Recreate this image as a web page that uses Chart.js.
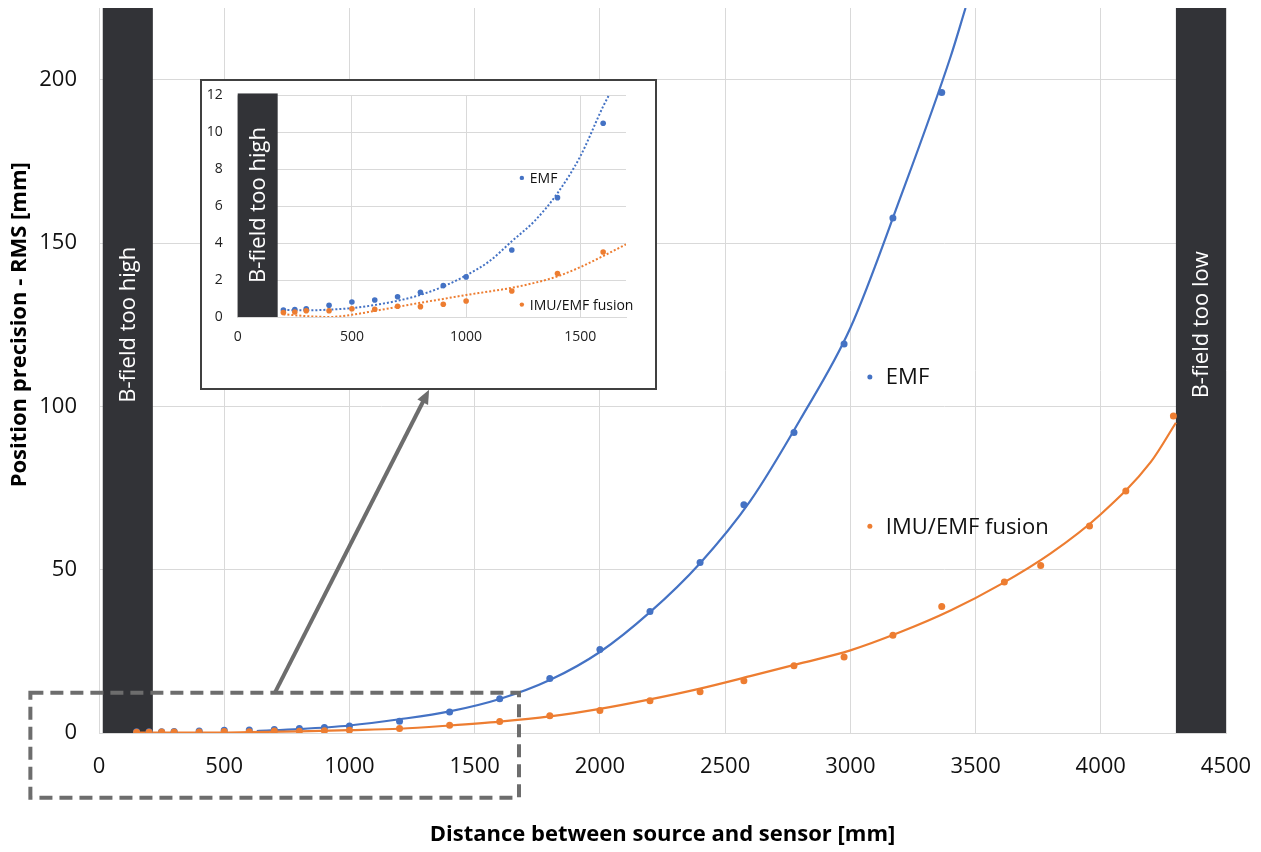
<!DOCTYPE html>
<html>
<head>
<meta charset="utf-8">
<script src="https://cdn.jsdelivr.net/npm/chart.js@4.4.1/dist/chart.umd.min.js"></script>
<style>
  body { margin: 0; background: #fff; }
  #wrap { position: relative; width: 1261px; height: 852px; }
  #mainChart { position: absolute; left: 0; top: 0; }
  #inset { position: absolute; left: 200px; top: 79px; width: 457px; height: 311px;
           box-sizing: border-box; border: 2px solid #404040; background: #fff; }
  #inset canvas { display: block; }
</style>
</head>
<body>
<div id="wrap">
  <canvas id="mainChart" width="1261" height="852"></canvas>
  <div id="inset"><canvas id="insetChart" width="453" height="307"></canvas></div>
</div>
<script>
// measured points (distance in mm, RMS in mm)
const emfDistance = [150, 200, 250, 300, 400, 500, 600, 700, 800, 900, 1000, 1200, 1400, 1600, 1800, 2000, 2200, 2400, 2575, 2775, 2975, 3170, 3365];
const emfRms      = [0.35, 0.38, 0.40, 0.45, 0.63, 0.81, 0.92, 1.10, 1.34, 1.70, 2.17, 3.63, 6.46, 10.49, 16.7, 25.6, 37.2, 52.2, 69.9, 92.0, 119.1, 157.7, 196.1];

const fusionDistance = [150, 200, 250, 300, 400, 500, 600, 700, 800, 900, 1000, 1200, 1400, 1600, 1800, 2000, 2200, 2400, 2575, 2775, 2975, 3170, 3365, 3615, 3760, 3955, 4100, 4290];
const fusionRms      = [0.20, 0.24, 0.27, 0.34, 0.34, 0.45, 0.42, 0.58, 0.56, 0.69, 0.87, 1.41, 2.35, 3.52, 5.3, 6.9, 9.9, 12.6, 16.0, 20.6, 23.3, 29.9, 38.7, 46.2, 51.3, 63.4, 74.1, 97.1];

// trend lines (main chart, solid)
const emfTrendX = [630, 800, 1000, 1200, 1400, 1600, 1800, 2000, 2200, 2400, 2600, 2800, 3000, 3200, 3400, 3460];
const emfTrendY = [0.6, 1.2, 2.3, 4.2, 6.6, 10.4, 16.2, 24.8, 37, 52, 71, 96, 124, 164, 207, 222];
const fusionTrendX = [150, 400, 600, 800, 1000, 1200, 1400, 1600, 1800, 2000, 2200, 2400, 2600, 2800, 3000, 3200, 3400, 3600, 3800, 4000, 4200, 4300];
const fusionTrendY = [0.1, 0.1, 0.25, 0.5, 0.85, 1.3, 2.3, 3.5, 5.1, 7.4, 10.3, 13.6, 17.4, 21.3, 25.3, 30.9, 37.5, 45.5, 55, 67, 83, 95];

// trend lines of the zoomed inset (dotted)
const insetEmfTrendX = [200, 300, 400, 500, 600, 700, 800, 900, 1000, 1100, 1200, 1300, 1400, 1500, 1600, 1625];
const insetEmfTrendY = [0.38, 0.36, 0.40, 0.48, 0.65, 0.88, 1.2, 1.65, 2.25, 3.0, 4.1, 5.2, 6.7, 8.7, 11.4, 12];
const insetFusionTrendX = [200, 300, 400, 500, 600, 700, 800, 900, 1000, 1100, 1200, 1300, 1400, 1500, 1600, 1700];
const insetFusionTrendY = [0.15, 0.05, 0.0, 0.12, 0.33, 0.55, 0.77, 0.98, 1.19, 1.38, 1.58, 1.85, 2.2, 2.7, 3.3, 3.93];

// ticks
const mainXTicks = [0, 500, 1000, 1500, 2000, 2500, 3000, 3500, 4000, 4500];
const mainYTicks = [0, 50, 100, 150, 200];
const insetXTicks = [0, 500, 1000, 1500];
const insetYTicks = [0, 2, 4, 6, 8, 10, 12];

// shaded regions
const bandFrom = [15, 4300];
const bandTo = [215, 4500];
const bandText = ['B-field too high', 'B-field too low'];
const insetBandFrom = [0];
const insetBandTo = [175];
const insetBandText = ['B-field too high'];

const seriesNames = ['EMF', 'IMU/EMF fusion'];

const BLUE = '#4472C4';
const ORANGE = '#ED7D31';
const DARK = '#323337';
const GRID = '#d9d9d9';
const FONT = "'Open Sans', 'Noto Sans', sans-serif";

const pts = (xs, ys) => xs.map((x, i) => ({ x: x, y: ys[i] }));
const plain = v => String(v);

// dark "B-field" columns
function bandPlugin(from, to, labels, topValue, labelValue, onTop) {
  const draw = (chart) => {
    const { ctx, scales: { x, y } } = chart;
    ctx.save();
    from.forEach((f, i) => {
      const x1 = x.getPixelForValue(f);
      const x2 = x.getPixelForValue(to[i]);
      const yTop = y.getPixelForValue(topValue);
      const yBot = y.getPixelForValue(0);
      ctx.fillStyle = DARK;
      ctx.fillRect(x1, yTop, x2 - x1, yBot - yTop);
      ctx.save();
      ctx.translate((x1 + x2) / 2, y.getPixelForValue(labelValue));
      ctx.rotate(-Math.PI / 2);
      ctx.fillStyle = '#fff';
      ctx.font = '22px ' + FONT;
      ctx.textAlign = 'center';
      ctx.textBaseline = 'middle';
      ctx.fillText(labels[i], 0, 1);
      ctx.restore();
    });
    ctx.restore();
  };
  return onTop ? { id: 'bands', afterDatasetsDraw: draw } : { id: 'bands', beforeDatasetsDraw: draw };
}

// series names written inside the plot
function nameTagPlugin(atX, atY, radius, fontSize, gap) {
  return {
    id: 'nameTags',
    afterDraw(chart) {
      const { ctx, scales: { x, y } } = chart;
      const colors = [BLUE, ORANGE];
      ctx.save();
      seriesNames.forEach((name, i) => {
        const px = x.getPixelForValue(atX);
        const py = y.getPixelForValue(atY[i]);
        ctx.fillStyle = colors[i];
        ctx.beginPath();
        ctx.arc(px, py, radius, 0, Math.PI * 2);
        ctx.fill();
        ctx.fillStyle = '#111';
        ctx.font = fontSize + 'px ' + FONT;
        ctx.textAlign = 'left';
        ctx.textBaseline = 'middle';
        ctx.fillText(name, px + gap, py + 1);
      });
      ctx.restore();
    }
  };
}

// zoom box, arrow and rotated y title on the main chart
const zoomBox = { x0: -274, x1: 1677, y0: -19.8, y1: 12.3 };
const arrowFrom = { x: 702, y: 12.3 };
const arrowTo = { x: 1318, y: 105.1 };

const extrasPlugin = {
  id: 'extras',
  afterDraw(chart) {
    const { ctx, scales: { x, y } } = chart;
    ctx.save();
    // y axis title
    ctx.save();
    ctx.translate(20, y.getPixelForValue(125));
    ctx.rotate(-Math.PI / 2);
    ctx.fillStyle = '#000';
    ctx.font = 'bold 22px ' + FONT;
    ctx.textAlign = 'center';
    ctx.textBaseline = 'middle';
    ctx.fillText('Position precision - RMS [mm]', 0, 0);
    ctx.restore();

    // dashed zoom box
    const bx0 = x.getPixelForValue(zoomBox.x0), bx1 = x.getPixelForValue(zoomBox.x1);
    const by0 = y.getPixelForValue(zoomBox.y1), by1 = y.getPixelForValue(zoomBox.y0);
    ctx.strokeStyle = '#6d6d6d';
    ctx.lineWidth = 4;
    ctx.setLineDash([13, 7]);
    ctx.strokeRect(bx0, by0, bx1 - bx0, by1 - by0);
    ctx.setLineDash([]);

    // arrow
    const ax0 = x.getPixelForValue(arrowFrom.x), ay0 = y.getPixelForValue(arrowFrom.y);
    const ax1 = x.getPixelForValue(arrowTo.x), ay1 = y.getPixelForValue(arrowTo.y);
    const ang = Math.atan2(ay1 - ay0, ax1 - ax0);
    const head = 14;
    ctx.beginPath();
    ctx.moveTo(ax0, ay0);
    ctx.lineTo(ax1 - Math.cos(ang) * head * 0.8, ay1 - Math.sin(ang) * head * 0.8);
    ctx.stroke();
    ctx.fillStyle = '#6d6d6d';
    ctx.beginPath();
    ctx.moveTo(ax1, ay1);
    ctx.lineTo(ax1 - head * Math.cos(ang) + 6 * Math.sin(ang), ay1 - head * Math.sin(ang) - 6 * Math.cos(ang));
    ctx.lineTo(ax1 - head * Math.cos(ang) - 6 * Math.sin(ang), ay1 - head * Math.sin(ang) + 6 * Math.cos(ang));
    ctx.closePath();
    ctx.fill();
    ctx.restore();
  }
};

function scatterSet(label, xs, ys, color, r, order) {
  return { label: label, data: pts(xs, ys), backgroundColor: color, borderColor: color,
           pointRadius: r, pointBorderWidth: 0, order: order };
}
function trendSet(label, xs, ys, color, width, dash, order) {
  return { label: label, data: pts(xs, ys), showLine: true, borderColor: color, borderWidth: width,
           borderDash: dash, pointRadius: 0, cubicInterpolationMode: 'monotone', order: order };
}

// main chart
new Chart(document.getElementById('mainChart'), {
  type: 'scatter',
  data: {
    datasets: [
      scatterSet('IMU/EMF fusion', fusionDistance, fusionRms, ORANGE, 3.5, 0),
      scatterSet('EMF', emfDistance, emfRms, BLUE, 3.5, 1),
      trendSet('IMU/EMF fusion trend', fusionTrendX, fusionTrendY, ORANGE, 2.2, [], 2),
      trendSet('EMF trend', emfTrendX, emfTrendY, BLUE, 2.2, [], 3)
    ]
  },
  options: {
    responsive: false,
    animation: false,
    layout: { padding: { top: 8, right: 35, bottom: 0, left: 0 } },
    plugins: { legend: { display: false }, tooltip: { enabled: false } },
    scales: {
      x: {
        type: 'linear', min: 0, max: 4500,
        afterBuildTicks: s => { s.ticks = mainXTicks.map(v => ({ value: v })); },
        afterFit: s => { s.height = 119; s.paddingLeft = 0; s.paddingRight = 0; },
        grid: { color: GRID, lineWidth: 1, drawTicks: false },
        border: { color: GRID, width: 1 },
        ticks: { color: '#111', font: { family: FONT, size: 22 }, padding: 21, maxRotation: 0, autoSkip: false, callback: plain },
        title: { display: true, text: 'Distance between source and sensor [mm]', color: '#000',
                 font: { family: FONT, size: 22, weight: 'bold' }, padding: { top: 0, bottom: 4 } }
      },
      y: {
        type: 'linear', min: 0, max: 222,
        afterBuildTicks: s => { s.ticks = mainYTicks.map(v => ({ value: v })); },
        afterFit: s => { s.width = 99; s.paddingTop = 0; s.paddingBottom = 0; },
        grid: { color: GRID, lineWidth: 1, drawTicks: false },
        border: { color: GRID, width: 1 },
        ticks: { color: '#111', font: { family: FONT, size: 22 }, padding: 22, callback: plain }
      }
    }
  },
  plugins: [
    bandPlugin(bandFrom, bandTo, bandText, 222, 125, false),
    nameTagPlugin(3078, [109, 63.3], 2.5, 22, 16),
    extrasPlugin
  ]
});

// inset chart (zoom on the first 1700 mm)
new Chart(document.getElementById('insetChart'), {
  type: 'scatter',
  data: {
    datasets: [
      scatterSet('IMU/EMF fusion', fusionDistance, fusionRms, ORANGE, 2.8, 0),
      scatterSet('EMF', emfDistance, emfRms, BLUE, 2.8, 1),
      trendSet('IMU/EMF fusion trend', insetFusionTrendX, insetFusionTrendY, ORANGE, 2, [2, 2], 2),
      trendSet('EMF trend', insetEmfTrendX, insetEmfTrendY, BLUE, 2, [2, 2], 3)
    ]
  },
  options: {
    responsive: false,
    animation: false,
    layout: { padding: { top: 14.3, right: 29, bottom: 0, left: 0 } },
    plugins: { legend: { display: false }, tooltip: { enabled: false } },
    scales: {
      x: {
        type: 'linear', min: 0, max: 1700,
        afterBuildTicks: s => { s.ticks = insetXTicks.map(v => ({ value: v })); },
        afterFit: s => { s.height = 71; s.paddingLeft = 0; s.paddingRight = 0; },
        grid: { color: GRID, lineWidth: 1, drawTicks: false },
        border: { color: GRID, width: 1 },
        ticks: { color: '#222', font: { family: FONT, size: 14 }, padding: 12, maxRotation: 0, autoSkip: false, callback: plain }
      },
      y: {
        type: 'linear', min: 0, max: 12,
        afterBuildTicks: s => { s.ticks = insetYTicks.map(v => ({ value: v })); },
        afterFit: s => { s.width = 35.7; s.paddingTop = 0; s.paddingBottom = 0; },
        grid: { color: GRID, lineWidth: 1, drawTicks: false },
        border: { display: false },
        ticks: { color: '#222', font: { family: FONT, size: 14 }, padding: 15, callback: plain }
      }
    }
  },
  plugins: [
    bandPlugin(insetBandFrom, insetBandTo, insetBandText, 12.1, 6.06, true),
    nameTagPlugin(1244, [7.53, 0.67], 2.2, 14, 8)
  ]
});
</script>
</body>
</html>
